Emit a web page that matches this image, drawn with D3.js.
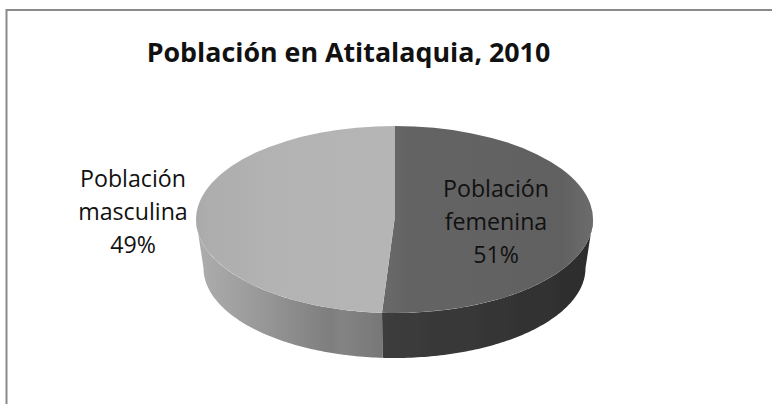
<!DOCTYPE html>
<html>
<head>
<meta charset="utf-8">
<script src="https://cdn.jsdelivr.net/npm/d3@7"></script>
<style>
html,body{margin:0;padding:0;background:#fff;overflow:hidden}
svg{display:block}
text{font-family:"Open Sans",Lato,sans-serif;fill:#111}
</style>
</head>
<body>
<div id="chart"></div>
<script>
const chartTitle = "Población en Atitalaquia, 2010";
const categories = ["Población femenina", "Población masculina"];
const values = [51, 49];
const labelLines = [["Población", "femenina", "51%"], ["Población", "masculina", "49%"]];

const W = 772, H = 404;
const svg = d3.select("#chart").append("svg").attr("width", W).attr("height", H);
const defs = svg.append("defs");
defs.append("filter").attr("id", "soft").append("feGaussianBlur").attr("stdDeviation", 0.5);

function grad(id, stops) {
  const g = defs.append("linearGradient").attr("id", id);
  stops.forEach(s => g.append("stop").attr("offset", s[0]).attr("stop-color", s[1]));
}
grad("wall0", [[0, "#3c3c3c"], [0.5, "#363636"], [1, "#2c2c2c"]]);
grad("wall1", [[0, "#aeaeae"], [0.35, "#989898"], [0.72, "#7e7e7e"], [0.78, "#848484"], [1, "#777777"]]);
grad("top1", [[0, "#a9a9a9"], [0.05, "#adadad"], [0.4, "#b3b3b3"], [1, "#b5b5b5"]]);
grad("top0", [[0, "#696969"], [0.12, "#646464"], [0.85, "#616161"], [1, "#6c6c6c"]]);

// frame
svg.append("path").attr("d", d3.line()([[6.5, H], [6.5, 10], [W, 10]]))
  .attr("fill", "none").attr("stroke", "#8a8a8a").attr("stroke-width", 2);

svg.append("text").attr("x", 348.5).attr("y", 62).attr("text-anchor", "middle")
  .attr("font-size", 26.8).attr("font-weight", 700).attr("fill", "#000").text(chartTitle);

const topE = {cx: 394.5, cy: 219.5, rx: 198.5, ry: 93.5};
const botE = {cx: 394.5, cy: 268, rx: 191, ry: 90};
const pt = (e, a) => [e.cx + e.rx * Math.sin(a), e.cy - e.ry * Math.cos(a)];

const arcs = d3.pie().sort(null)(values);
const pie = svg.append("g").attr("filter", "url(#soft)");
const STEP = Math.PI / 180;

// walls: only the part of each slice facing the viewer
arcs.forEach((d, i) => {
  const a0 = Math.max(d.startAngle, Math.PI / 2), a1 = Math.min(d.endAngle, 3 * Math.PI / 2);
  const ang = d3.range(a0, a1, STEP).concat([a1]);
  const pts = ang.map(a => pt(topE, a)).concat(ang.slice().reverse().map(a => pt(botE, a)));
  pie.append("path").attr("d", d3.line()(pts) + "Z").attr("fill", `url(#wall${i})`);
});

// top faces
const unit = d3.arc().innerRadius(0).outerRadius(1);
pie.selectAll("path.top").data(arcs).join("path").attr("class", "top")
  .attr("transform", `translate(${topE.cx},${topE.cy}) scale(${topE.rx},${topE.ry})`)
  .attr("d", unit)
  .attr("fill", (d, i) => `url(#top${i})`);

// labels
const labelPos = [{x: 496, y: [197, 230, 263]}, {x: 133, y: [187, 220, 253]}];
labelLines.forEach((lines, i) => {
  lines.forEach((t, j) => {
    svg.append("text").attr("x", labelPos[i].x).attr("y", labelPos[i].y[j])
      .attr("text-anchor", "middle").attr("font-size", 23.2).text(t);
  });
});
</script>
</body>
</html>
